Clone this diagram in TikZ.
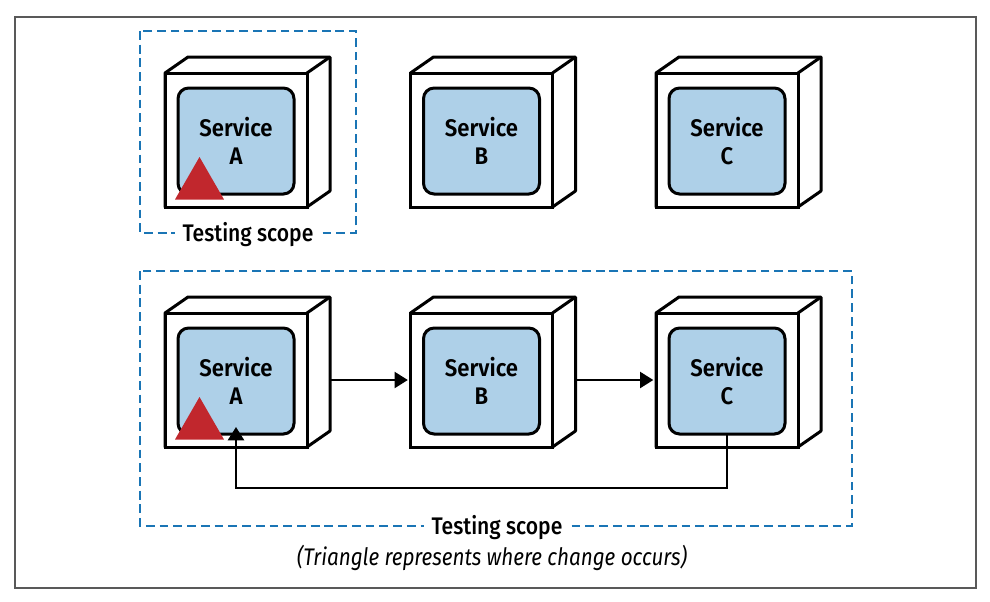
\documentclass[tikz,border=0pt]{standalone}
\usepackage{fontspec}
\setmainfont[FakeStretch=0.86]{Fira Sans}
\newfontfamily\labelfont[FakeStretch=0.88]{Fira Sans Medium}
\newfontfamily\servicefont[FakeStretch=0.92]{Fira Sans SemiBold}
\usetikzlibrary{arrows.meta}
\definecolor{serviceblue}{HTML}{AED0E8}
\definecolor{scopeblue}{HTML}{1A75B5}
\definecolor{changered}{HTML}{C1272D}
\tikzset{
  frontbox/.style = {draw, line width=2.25pt, fill=white, minimum width=106.5pt, minimum height=100.5pt, inner sep=0pt, outer sep=0pt},
  servicebox/.style = {draw, line width=2.25pt, fill=serviceblue, rounded corners=8pt, minimum width=87pt, minimum height=79.5pt, inner sep=0pt, outer sep=0pt, align=center, font=\fontsize{18}{21}\selectfont\servicefont},
  flow/.style = {line width=1.9pt, -{Triangle[length=10pt,width=12pt]}},
  scopeline/.style = {draw=scopeblue, line width=1.9pt, dash pattern=on 6.6pt off 3.7pt},
  scopelabel/.style = {fill=white, inner xsep=6pt, inner ysep=1pt, font=\fontsize{18}{20}\selectfont\labelfont}
}
\begin{document}
\begin{tikzpicture}[x=0.75pt, y=-0.75pt]
\useasboundingbox (0,0) rectangle (990,601);
\draw[line width=1.1pt, draw=black!65] (15,17) rectangle (976,588);

% scopes
\draw[scopeline] (140,31) rectangle (356,233);
\draw[scopeline] (140,271) rectangle (852,526);
\node[scopelabel] (scope1) at (248,235) {Testing scope};
\node[scopelabel] (scope2) at (497,528) {Testing scope};
\node[font=\fontsize{18}{20}\selectfont\itshape] (note) at (492,558) {(Triangle represents where change occurs)};

% the six boxes
\foreach \row/\y in {1/140, 2/380} {
  \foreach \svc/\x in {A/236, B/481.5, C/727} {
    \draw[line width=2.25pt, line join=round, fill=white] (\x-71,\y-67) -- ++(23,-16) -- ++(142,0) -- ++(0,134) -- ++(-23,16) -- ++(-142,0) -- cycle;
    \node[frontbox] (front\svc\row) at (\x,\y) {};
    \draw[line width=2.25pt] (front\svc\row.north east) -- ++(23,-16);
    \node[servicebox] (service\svc\row) at (\x,\y+1) {Service\\\svc};
  }
  \fill[changered] (175,\y+59.5) -- (224,\y+59.5) -- (199.5,\y+17) -- cycle;
}

% arrows
\coordinate (outA) at (330,380);
\coordinate (outB) at (576,380);
\coordinate (backA) at (236,427);
\draw[flow, shorten >=2pt] (outA) -- (frontB2.west);
\draw[flow, shorten >=2pt] (outB) -- (frontC2.west);
\draw[flow] (serviceC2.south) -- ++(0,54) -| (backA);
\end{tikzpicture}
\end{document}
